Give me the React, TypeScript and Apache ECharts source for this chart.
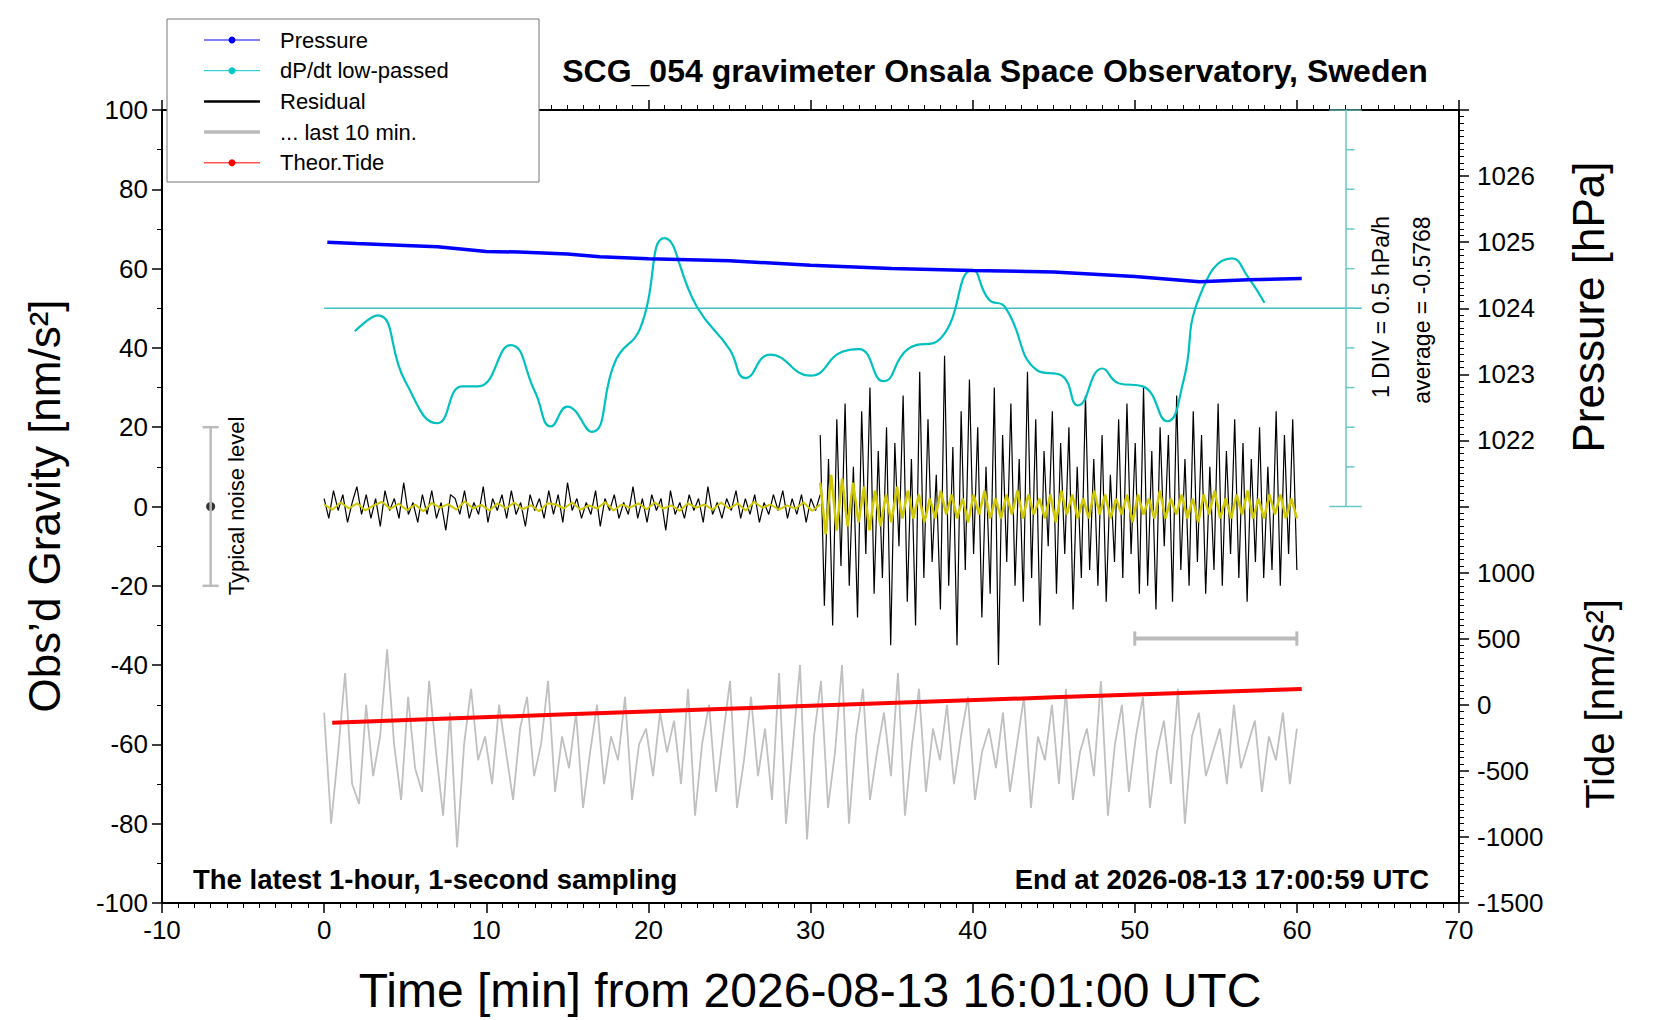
import React, { useEffect, useRef } from "react";
import * as echarts from "echarts";

const FONT = "Liberation Sans, Arial, sans-serif";

const xTicks = [-10, 0, 10, 20, 30, 40, 50, 60, 70];
const pressureLabels = [1022, 1023, 1024, 1025, 1026];
const tideLabels = [-1500, -1000, -500, 0, 500, 1000];

const pressure: [number, number][] = [
  [0.2, 1025.0], [2, 1024.98], [5, 1024.95], [7, 1024.93], [10, 1024.86], [12, 1024.85], [15, 1024.82], [17, 1024.78], [20, 1024.75], [25, 1024.72],
  [30, 1024.65], [35, 1024.6], [40, 1024.57], [45, 1024.55], [50, 1024.48], [54, 1024.4],
  [57, 1024.43], [60.3, 1024.45],
];

const dpdt: [number, number][] = [
  [1.9, 44.2], [3.3, 48.2], [5, 31.6], [7, 21.0], [8.5, 30.3], [9.5, 30.3], [11.5, 40.7],
  [13, 29.0], [14, 20.2], [15, 25.2], [16.5, 18.8], [18, 37.0], [19.5, 45.0], [21, 67.7],
  [23, 50.3], [25, 39.7], [26, 32.4], [27.5, 38.3], [30, 33.0], [32, 39.1], [33, 39.7],
  [34.5, 31.6], [36, 39.7], [38, 42.3], [40, 59.7], [41, 52.2], [42, 50.3], [44, 34.3],
  [45.5, 33.0], [46.5, 25.5], [48, 34.8], [49, 31.1], [50.5, 30.3], [52, 21.5], [53, 31.6],
  [54, 53.0], [56, 62.6], [57, 57.8], [58, 51.4],
];

const residualQuiet = [2,-3,4,-1,3,-4,1,5,-2,3,-3,2,-5,4,-1,2,-3,6,-2,1,-4,3,-2,4,-3,1,-6,3,2,-2,4,-3,1,-2,5,-4,2,-1,3,-3,4,-2,1,-5,3,-1,2,-3,4,-2,3,-4,6,-1,2,-3,1,-2,4,-5,2,-1,3,-3,1,-2,5,-3,2,-4,3,-1,2,-6,4,-2,1,-3,3,-1,2,-4,5,-2,1,-3,2,-1,4,-3,2,-2,3,-4,1,-2,3,-1,4,-3,2,-2,3,-4,2,-1,3];
const residualActive = [18,-25,12,-30,22,-15,26,-20,10,-28,24,-12,30,-22,14,-18,20,-35,16,-10,28,-24,12,-30,34,-18,22,-14,8,-26,38,-20,15,-35,24,-16,32,-12,20,-28,10,-22,30,-40,18,-14,26,-20,12,-24,34,-18,22,-30,14,-10,24,-22,16,-12,20,-26,10,-18,28,-16,12,-20,18,-24,8,-14,22,-18,26,-12,16,-22,30,-20,14,-26,20,-10,18,-24,28,-16,12,-20,24,-14,18,-22,10,-16,26,-20,14,-12,22,-18,16,-24,12,-14,20,-18,10,-16,24,-20,18,-12,22,-16];
const smoothQuiet = [0.5,-0.8,1,-0.5,0.8,-1,0.3,1.2,-0.6,0.7,-0.9,0.5,-1.2,0.9,-0.3,0.6,-0.8,1.3,-0.5,0.4,-1,0.8,-0.5,1,-0.7,0.3,-1.2,0.8,0.5,-0.5,1,-0.8,0.3,-0.5,1.1,-1,0.5,-0.3,0.8,-0.7,1,-0.5,0.3,-1.1,0.8,-0.3,0.5,-0.8,1,-0.5,0.8,-1,1.2,-0.3,0.5,-0.8,0.3,-0.5,1,-1.1,0.5];
const smoothActive = [6,-7,8,-6,7,-5,6,-4,5,-6,4,-5,3,-4,5,-3,4,-3,3,-4,2,-3,4,-2,3,-3,2,-4,3,-2,4,-3,2,-3,3,-2,4,-3,3,-2,2,-3,3,-4,4,-2,3,-3,2,-3,4,-2,3,-3,2,-2,3,-4,3,-2,2,-3,4,-3,2,-2,3,-3,2,-4,3,-2,4,-3,2,-3,3,-2,4,-3,2,-3,3,-2,3,-3,2,-3];
const last10 = [-52,-80,-62,-42,-70,-75,-50,-68,-58,-36,-60,-74,-48,-66,-72,-44,-62,-78,-52,-86,-60,-46,-64,-58,-70,-50,-62,-74,-56,-48,-68,-60,-44,-72,-58,-66,-52,-76,-62,-50,-70,-58,-64,-48,-74,-60,-56,-68,-52,-62,-54,-70,-46,-78,-60,-50,-72,-58,-44,-76,-64,-48,-68,-56,-74,-42,-80,-60,-40,-84,-58,-44,-76,-62,-40,-80,-58,-46,-74,-62,-52,-68,-42,-78,-60,-46,-72,-56,-64,-50,-70,-58,-48,-74,-62,-56,-66,-52,-72,-60,-48,-76,-58,-64,-50,-70,-46,-74,-62,-56,-68,-44,-78,-60,-50,-72,-58,-48,-76,-62,-54,-70,-46,-80,-58,-52,-68,-62,-56,-70,-50,-66,-60,-54,-72,-58,-64,-52,-70,-56];
const tide: [number, number][] = [[0.5, -136], [15, -72], [30, -8], [45, 56], [60.3, 120]];

const spread = (vals: number[], x0: number, x1: number): [number, number][] =>
  vals.map((v, i) => [x0 + ((x1 - x0) * i) / (vals.length - 1), v]);

export default function App() {
  const ref = useRef<HTMLDivElement>(null);
  useEffect(() => {
    const chart = echarts.init(ref.current!, null, { renderer: "svg" });
    const seg = (data: [number, number][], color: string, width: number, yi = 0, extra: any = {}) => ({
      type: "line", data, yAxisIndex: yi, showSymbol: false, symbol: "none", silent: true,
      lineStyle: { color, width }, ...extra,
    });
    const cyan = "#00c0c0";
    const divScale: any[] = [seg([[63.03, 0], [63.03, 100]], "#66c8c8", 1.5)];
    for (let g = 10; g < 100; g += 10) divScale.push(seg([[63.03, g], [63.55, g]], "#66c8c8", 1.5));
    divScale.push(seg([[62.0, 0], [64.0, 0]], "#66c8c8", 1.5));
    divScale.push(seg([[62.0, 100], [64.0, 100]], "#66c8c8", 1.5));
    const lbl = { fontFamily: FONT, fontSize: 26, color: "#000" };
    const line = { show: true, onZero: false, lineStyle: { color: "#000", width: 2 } };
    const tick = { show: true, length: 10, lineStyle: { color: "#000", width: 1.5 } };
    const legendItems = [
      { name: "Pressure", color: "#0000ff", dot: true, w: 1 },
      { name: "dP/dt low-passed", color: "#00c8c8", dot: true, w: 1 },
      { name: "Residual", color: "#000", dot: false, w: 2.5 },
      { name: "... last 10 min.", color: "#bbbbbb", dot: false, w: 3.5 },
      { name: "Theor.Tide", color: "#ff0000", dot: true, w: 1 },
    ];
    const legendG: any[] = [
      { type: "rect", shape: { x: 167, y: 19, width: 372, height: 163 }, style: { fill: "#fff", stroke: "#777", lineWidth: 1 }, z: 100 },
    ];
    legendItems.forEach((it, i) => {
      const y = 40 + i * 30.7;
      legendG.push({ type: "line", shape: { x1: 204, y1: y, x2: 260, y2: y }, style: { stroke: it.color, lineWidth: it.w }, z: 101 });
      if (it.dot) legendG.push({ type: "circle", shape: { cx: 232, cy: y, r: 3.5 }, style: { fill: it.color }, z: 101 });
      legendG.push({ type: "text", x: 280, y, style: { text: it.name, font: `22px ${FONT}`, fill: "#000", verticalAlign: "middle" }, z: 101 });
    });
    const txt = (x: number, y: number, text: string, font: string, extra: any = {}) => ({
      type: "text", x, y, rotation: extra.rot || 0,
      style: { text, font: `${font} ${FONT}`, fill: "#000", align: extra.align || "center", verticalAlign: "middle" }, z: 50,
    });
    chart.setOption({
      animation: false,
      grid: { left: 162, right: 201, top: 110, bottom: 117, show: false },
      xAxis: [
        { type: "value", min: -10, max: 70, interval: 10, position: "bottom",
          axisLine: line, axisTick: tick,
          minorTick: { show: true, splitNumber: 10, length: 5, lineStyle: { color: "#000" } },
          splitLine: { show: false }, axisLabel: { ...lbl, margin: 14 } },
        { type: "value", min: -10, max: 70, interval: 10, position: "top",
          axisLine: line, axisTick: tick,
          minorTick: { show: true, splitNumber: 10, length: 5, lineStyle: { color: "#000" } },
          splitLine: { show: false }, axisLabel: { show: false } },
      ],
      yAxis: [
        { type: "value", min: -100, max: 100, interval: 20, position: "left",
          axisLine: line, axisTick: tick,
          minorTick: { show: true, splitNumber: 2, length: 5, lineStyle: { color: "#000" } },
          splitLine: { show: false }, axisLabel: { ...lbl, margin: 14 } },
        { type: "value", min: 1015, max: 1027, interval: 1, position: "right",
          axisLine: line, axisTick: tick,
          minorTick: { show: true, splitNumber: 10, length: 5, lineStyle: { color: "#000" } },
          splitLine: { show: false },
          axisLabel: { ...lbl, margin: 18, formatter: (v: number) => (pressureLabels.includes(v) ? String(v) : "") } },
        { type: "value", min: -1500, max: 4500, interval: 500, position: "right",
          axisLine: { show: false, onZero: false }, axisTick: { show: false }, splitLine: { show: false },
          axisLabel: { ...lbl, margin: 18, formatter: (v: number) => (tideLabels.includes(v) ? String(v) : "") } },
      ],
      series: [
        seg([[0, 50], [64.0, 50]], "#40c0c0", 1.5),
        ...divScale,
        seg(spread(last10, 0, 60), "#c0c0c0", 1.8),
        seg(spread(residualQuiet, 0, 30.6), "#000", 1.2),
        seg(spread(residualActive, 30.6, 60), "#000", 1.2),
        seg(spread(smoothQuiet, 0, 30.6), "#d0c800", 2),
        seg(spread(smoothActive, 30.6, 60), "#d0c800", 2.5),
        seg(dpdt, cyan, 2.2, 0, { smooth: 0.5 }),
        seg(pressure, "#0000ff", 3.5, 1),
        seg(tide, "#ff0000", 4, 2),
        seg([[50, -33.3], [60, -33.3]], "#bbbbbb", 4),
        seg([[50, -31.5], [50, -35.1]], "#bbbbbb", 3),
        seg([[60, -31.5], [60, -35.1]], "#bbbbbb", 3),
        seg([[-7, 20], [-7, -20]], "#bbbbbb", 2.5),
        seg([[-7.5, 20], [-6.5, 20]], "#bbbbbb", 2.5),
        seg([[-7.5, -20], [-6.5, -20]], "#bbbbbb", 2.5),
        { type: "scatter", data: [[-7, 0]], symbolSize: 9, itemStyle: { color: "#000" }, silent: true },
      ],
      graphic: [
        ...legendG,
        txt(995, 71, "SCG_054 gravimeter Onsala Space Observatory, Sweden", "bold 32px"),
        txt(193, 879, "The latest 1-hour, 1-second sampling", "bold 27.5px", { align: "left" }),
        txt(1429, 879, "End at 2026-08-13 17:00:59 UTC", "bold 27.5px", { align: "right" }),
        txt(44, 506, "Obs\u2019d Gravity [nm/s\u00b2]", "44px", { rot: Math.PI / 2 }),
        txt(1588, 307, "Pressure [hPa]", "44px", { rot: Math.PI / 2 }),
        txt(1600, 704, "Tide [nm/s\u00b2]", "40px", { rot: Math.PI / 2 }),
        txt(810, 990, "Time [min] from 2026-08-13 16:01:00 UTC", "48px"),
        txt(236, 506, "Typical noise level", "22px", { rot: Math.PI / 2 }),
        txt(1381, 307, "1 DIV = 0.5 hPa/h", "23px", { rot: Math.PI / 2 }),
        txt(1422, 310, "average = -0.5768", "23px", { rot: Math.PI / 2 }),
      ],
    });
    return () => chart.dispose();
  }, []);
  return <div ref={ref} style={{ position: "absolute", left: 0, top: 0, width: 1660, height: 1020, background: "#fff" }} />;
}
